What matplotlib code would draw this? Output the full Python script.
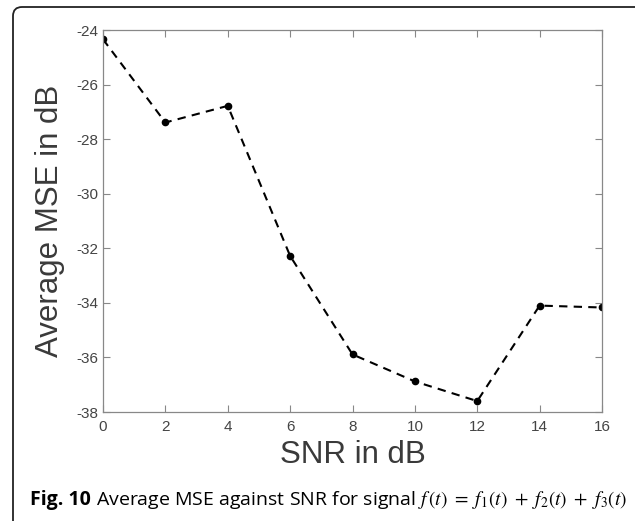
import numpy as np
import matplotlib.pyplot as plt
from matplotlib.patches import FancyBboxPatch
from matplotlib.transforms import IdentityTransform

# Data
snr = [0, 2, 4, 6, 8, 10, 12, 14, 16]
mse = [-24.34, -27.39, -26.78, -32.28, -35.89, -36.88, -37.6, -34.1, -34.17]
xticks = [0, 2, 4, 6, 8, 10, 12, 14, 16]
yticks = [-24, -26, -28, -30, -32, -34, -36, -38]

plt.rcParams['font.family'] = ['Liberation Sans', 'DejaVu Sans']
plt.rcParams['axes.unicode_minus'] = False
plt.rcParams['mathtext.fontset'] = 'stix'

fig = plt.figure(figsize=(6.35, 5.21), dpi=100)

# frame around figure (only top and left edge visible), pixel coords
frame = FancyBboxPatch((13, -30), 640, 521 - 7 + 30,
                       boxstyle="round,pad=0,rounding_size=9",
                       transform=IdentityTransform(), fill=False,
                       edgecolor='#222222', linewidth=1.3)
fig.patches.append(frame)

ax = fig.add_axes([103 / 635, 109 / 521, 499 / 635, 382 / 521])
ax.plot(snr, mse, '--', color='black', linewidth=1.5,
        marker='o', markersize=4.5, dashes=(4, 3))

ax.set_xlim(0, 16)
ax.set_ylim(-38, -24)
ax.set_xticks(xticks)
ax.set_yticks(yticks)
ax.tick_params(direction='in', top=True, right=True, length=5,
               color='#888888', labelcolor='#444444', labelsize=11, width=0.8)
ax.tick_params(axis='x', pad=6)
for s in ax.spines.values():
    s.set_color('#888888')
    s.set_linewidth(0.9)

ax.set_xlabel('SNR in dB', fontsize=22.5, color='#3a3a3a', labelpad=4)
ax.set_ylabel('Average MSE in dB', fontsize=22.5, color='#3a3a3a', labelpad=8)

# caption
fig.canvas.draw()
t1 = fig.text(30 / 635, 21 / 521, 'Fig. 10', fontsize=14, fontweight='bold',
              family='Open Sans', va='center')
bb = t1.get_window_extent(fig.canvas.get_renderer())
fig.text((bb.x1 + 5) / 635, 21 / 521,
         'Average MSE against SNR for signal $f\\,(t)\\ =\\ f_1(t)\\ +\\ f_2(t)\\ +\\ f_3(t)$',
         fontsize=14, family='Open Sans', va='center')

fig.savefig('out.png', dpi=100)
